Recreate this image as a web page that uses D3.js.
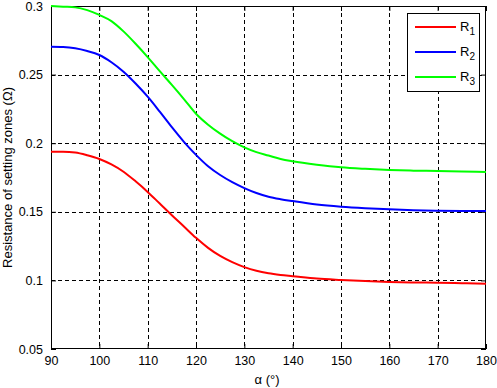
<!DOCTYPE html>
<html><head><meta charset="utf-8">
<script src="https://cdn.jsdelivr.net/npm/d3@7"></script>
<style>body{margin:0;background:#fff;} svg{display:block;font-family:Arial,"Liberation Sans",sans-serif;}</style>
</head><body>
<script>
const alpha = [90,92.5,95,97.5,100,102.5,105,107.5,110,112.5,115,117.5,120,122.5,125,127.5,130,132.5,135,137.5,140,145,150,155,160,165,170,175,180];
const R1 = [0.1938,0.1938,0.1932,0.1912,0.1885,0.1845,0.1792,0.1722,0.1645,0.1560,0.1475,0.1393,0.1310,0.1237,0.1178,0.1133,0.1097,0.1070,0.1052,0.1040,0.1031,0.1013,0.1003,0.0995,0.0989,0.0985,0.0983,0.0980,0.0976];
const R2 = [0.2703,0.2701,0.2692,0.2672,0.2643,0.2590,0.2521,0.2435,0.2339,0.2230,0.2117,0.2010,0.1915,0.1832,0.1768,0.1716,0.1673,0.1637,0.1610,0.1592,0.1578,0.1553,0.1537,0.1526,0.1518,0.1512,0.1508,0.1506,0.1505];
const R3 = [0.3000,0.2995,0.2990,0.2970,0.2935,0.2890,0.2815,0.2725,0.2628,0.2525,0.2425,0.2322,0.2215,0.2135,0.2070,0.2015,0.1970,0.1935,0.1910,0.1885,0.1868,0.1843,0.1824,0.1813,0.1805,0.1800,0.1797,0.1793,0.1790];
const seriesNames = ["1","2","3"];
const seriesColors = ["#ff0000","#0000ff","#00ff00"];
const xTicks = [90,100,110,120,130,140,150,160,170,180];
const yTicks = [0.05,0.1,0.15,0.2,0.25,0.3];

const W=497,H=388, L=51,R=486,T=6,B=349;
const svg=d3.select("body").append("svg").attr("width",W).attr("height",H);
svg.append("rect").attr("width",W).attr("height",H).attr("fill","#fff");
const x=d3.scaleLinear().domain([90,180]).range([L,R]);
const y=d3.scaleLinear().domain([0.05,0.3]).range([B,T]);

// grid
const g=svg.append("g");
g.selectAll(".gx").data(xTicks.slice(1,-1)).enter().append("line")
 .attr("x1",d=>Math.round(x(d))+0.5).attr("x2",d=>Math.round(x(d))+0.5).attr("y1",T).attr("y2",B)
 .attr("stroke","#000").attr("stroke-dasharray","4,3").attr("stroke-width",1);
g.selectAll(".gy").data(yTicks.slice(1,-1)).enter().append("line")
 .attr("y1",d=>Math.round(y(d))+0.5).attr("y2",d=>Math.round(y(d))+0.5).attr("x1",L).attr("x2",R)
 .attr("stroke","#000").attr("stroke-dasharray","4,3").attr("stroke-width",1);

// axes
const ax=d3.axisBottom(x).tickValues(xTicks).tickSize(-5).tickPadding(7).tickFormat(d3.format("d"));
const axT=d3.axisTop(x).tickValues(xTicks).tickSize(-5).tickFormat("");
const ay=d3.axisLeft(y).tickValues(yTicks).tickSize(-5).tickPadding(8).tickFormat(d=>String(d));
const ayR=d3.axisRight(y).tickValues(yTicks).tickSize(-5).tickFormat("");
function style(sel){sel.select(".domain").remove();sel.selectAll("line").attr("stroke","#000");sel.selectAll("text").attr("fill","#000").attr("font-size","12.5px").attr("font-family","Arial,'Liberation Sans',sans-serif");}
svg.append("g").attr("transform",`translate(0,${B})`).call(ax).call(style);
svg.append("g").attr("transform",`translate(0,${T})`).call(axT).call(style);
svg.append("g").attr("transform",`translate(${L},0)`).call(ay).call(style);
svg.append("g").attr("transform",`translate(${R},0)`).call(ayR).call(style);
svg.append("rect").attr("x",L+0.5).attr("y",T+0.5).attr("width",R-L-1).attr("height",B-T-1)
 .attr("fill","none").attr("stroke","#000").attr("stroke-width",1);

// lines
const data=[R1,R2,R3];
const line=d3.line().x((d,i)=>x(alpha[i])).y(d=>y(d)).curve(d3.curveMonotoneX);
data.forEach((s,k)=>{
  svg.append("path").datum(s).attr("d",line).attr("fill","none").attr("stroke",seriesColors[k]).attr("stroke-width",2);
});

// labels
svg.append("text").attr("x",267).attr("y",384).attr("text-anchor","middle").attr("font-size","13px").text("α (°)");
svg.append("text").attr("transform",`translate(12,${(T+B)/2}) rotate(-90)`).attr("text-anchor","middle").attr("font-size","13px").text("Resistance of setting zones (Ω)");

// legend
const lg=svg.append("g");
lg.append("rect").attr("x",407.5).attr("y",13.5).attr("width",72).attr("height",78).attr("fill","#fff").attr("stroke","#000");
seriesNames.forEach((n,k)=>{
  const yy=27+k*25;
  lg.append("line").attr("x1",415).attr("x2",456).attr("y1",yy).attr("y2",yy).attr("stroke",seriesColors[k]).attr("stroke-width",2);
  const t=lg.append("text").attr("x",460).attr("y",yy+4).attr("font-size","13px");
  t.append("tspan").text("R");
  t.append("tspan").attr("font-size","10px").attr("dy",4).text(n);
});
</script>
</body></html>
